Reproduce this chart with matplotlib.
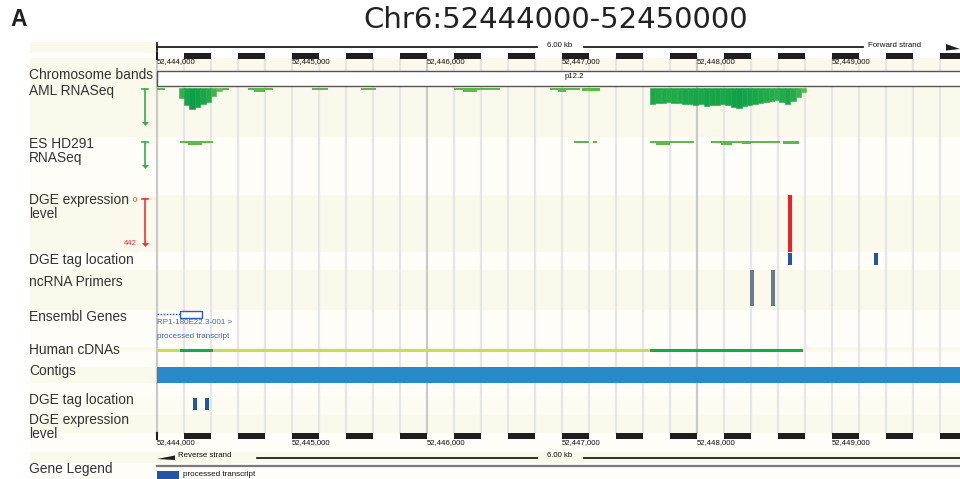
import matplotlib
matplotlib.use('Agg')
import matplotlib.pyplot as plt
from matplotlib.patches import Rectangle, Polygon
import matplotlib.colors as mcolors

plt.rcParams['font.family'] = ['Liberation Sans', 'DejaVu Sans']

# region
title = 'Chr6:52444000-52450000'
view_start = 52444000
view_end = 52450000
tick_pos = [52444000, 52445000, 52446000, 52447000, 52448000, 52449000]
band_name = 'p12.2'
scale_text = '6.00 kb'

# AML RNASeq coverage (40 bp bins)
aml_peak_start = [52444160, 52444200, 52444240, 52444280, 52444320, 52444360, 52444400, 52444440]
aml_peak_depth = [10, 17, 21, 19, 16, 14, 8, 3]
aml_block_start = [52447650, 52447690, 52447730, 52447770, 52447810, 52447850, 52447890, 52447930,
                   52447970, 52448010, 52448050, 52448090, 52448130, 52448170, 52448210, 52448250,
                   52448290, 52448330, 52448370, 52448410, 52448450, 52448490, 52448530, 52448570,
                   52448610, 52448650, 52448690, 52448730, 52448770]
aml_block_depth = [16, 15, 15, 14, 15, 15, 16, 16, 17, 16, 18, 17, 17, 16, 17, 19, 20, 18, 17, 16,
                   15, 14, 13, 12, 14, 16, 13, 9, 4]
# low coverage pieces: start, end, depth
aml_low_start = [52444000, 52444480, 52444674, 52444720, 52445148, 52445511, 52446200, 52446270,
                 52446911, 52446970, 52447148]
aml_low_end = [52444060, 52444530, 52444859, 52444800, 52445267, 52445622, 52446541, 52446370,
               52447133, 52447030, 52447281]
aml_low_depth = [2, 2, 2, 3.5, 2, 2, 2, 4, 2, 4, 2.5]

# ES HD291 RNASeq coverage
es_start = [52444170, 52444230, 52447089, 52447230, 52447652, 52447700, 52448104, 52448180,
            52448330, 52448637]
es_end = [52444415, 52444330, 52447200, 52447259, 52447978, 52447800, 52448615, 52448260,
          52448400, 52448756]
es_depth = [2, 3.5, 2, 2, 2, 3.5, 2, 3.5, 3, 2.5]

# DGE expression / tags
dge_expr_start = [52448674]
dge_expr_end = [52448704]
dge_expr_value = [442]
dge_tag_start = [52448674, 52449311]
dge_tag_end = [52448704, 52449341]
primer_start = [52448393, 52448548]
primer_end = [52448422, 52448578]
dge_tag_rev_start = [52444267, 52444356]
dge_tag_rev_end = [52444296, 52444385]

# Ensembl gene
gene_start = 52443900
exon_start = [52444170]
exon_end = [52444333]
gene_label = 'RP1-180E22.3-001 >'
gene_type = 'processed transcript'

# Human cDNAs
cdna_start = 52444000
cdna_end = 52447652
cdna_aligned_start = [52444170, 52447652]
cdna_aligned_end = [52444415, 52448785]

# ---- layout ----
PX_PER_BP = 0.135
LEFT_PX = 157


def bp(px):
    return view_start + (px - LEFT_PX) / PX_PER_BP


cream = '#FBF9EC'
white2 = '#FEFDF8'
green = '#2DB24A'
lgreen = '#5CBB46'
label_col = '#333333'

fig = plt.figure(figsize=(9.6, 4.79), dpi=100)
ax = fig.add_axes([0, 0, 1, 1])
ax.set_xlim(bp(0), bp(960))
ax.set_ylim(479, 0)
ax.axis('off')

rows = [(58, 70, cream), (70, 86, cream), (86, 137, cream), (137, 195, white2),
        (195, 252, cream), (252, 270, white2), (270, 310, cream), (310, 347, white2),
        (347, 352, cream), (352, 367, white2), (367, 383, cream), (383, 396, white2),
        (396, 415, '#FDFCF3'), (415, 433, cream), (433, 452, white2), (452, 463, cream),
        (463, 479, white2)]
for y0, y1, c in rows:
    ax.add_patch(Rectangle((bp(30), y0), bp(960) - bp(30), y1 - y0, color=c, lw=0, zorder=0))
ax.add_patch(Rectangle((bp(30), 42), bp(157) - bp(30), 11, color=cream, lw=0, zorder=0))

# grid lines every 200 bp
for k in range(0, 31):
    g = view_start + 200 * k
    c = '#C9C9C9' if k % 10 == 0 else '#E6E6E6'
    ax.plot([g, g], [58, 433], color=c, lw=1.6, zorder=1)

# title
ax.text(bp(556), 20, title, fontsize=21, family='DejaVu Sans', color='#222222',
        ha='center', va='center')
ax.text(bp(10), 19, 'A', fontsize=16.5, fontweight='bold', color='#222222', ha='left', va='center')

# rulers
for yb, yl in [(53, 62), (433, 443)]:
    for k in range(15):
        s = view_start + 200 + 400 * k
        ax.add_patch(Rectangle((s, yb), 200, 5.5, color='#1E1E1E', lw=0, zorder=3))
    ax.plot([view_start, view_start], [yb, yb + 5.5], color='#1E1E1E', lw=1.5, zorder=3)
    for t in tick_pos:
        ax.text(t, yl, f'{t:,}', fontsize=5.6, color='#111111', ha='left', va='center', zorder=4)

# forward strand line
ax.plot([bp(157), bp(537)], [47, 47], color='#1E1E1E', lw=1.3)
ax.plot([bp(584), bp(863)], [47, 47], color='#1E1E1E', lw=1.3)
ax.plot([bp(157), bp(157)], [43, 51], color='#1E1E1E', lw=1.3)
ax.text(bp(560), 45.5, scale_text, fontsize=5.6, ha='center', va='center', color='#111111')
ax.text(bp(868), 45.5, 'Forward strand', fontsize=5.7, ha='left', va='center', color='#111111')
ax.add_patch(Polygon([(bp(946), 44), (bp(946), 50.5), (bp(960), 49)], color='#1E1E1E', lw=0))

# reverse strand line
ax.plot([bp(257), bp(537)], [458, 458], color='#1E1E1E', lw=1.3)
ax.plot([bp(584), bp(960)], [458, 458], color='#1E1E1E', lw=1.3)
ax.text(bp(560), 455.5, scale_text, fontsize=5.6, ha='center', va='center', color='#111111')
ax.text(bp(178), 455.5, 'Reverse strand', fontsize=5.7, ha='left', va='center', color='#111111')
ax.add_patch(Polygon([(bp(157), 459), (bp(175), 455.5), (bp(175), 460)], color='#1E1E1E', lw=0))
ax.plot([bp(157), bp(960)], [466, 466], color='#7A7A7A', lw=1.6)

# chromosome band
ax.add_patch(Rectangle((bp(157), 70.5), bp(962) - bp(157), 15.5, facecolor='white',
                       edgecolor='#555555', lw=1.0, zorder=3))
ax.text(bp(565), 76, band_name, fontsize=5.6, ha='left', va='center', color='#111111', zorder=4)

# track labels
labels = [(75, 'Chromosome bands'), (91, 'AML RNASeq'), (151, 'ES HD291\nRNASeq'),
          (207, 'DGE expression\nlevel'), (260, 'DGE tag location'), (282, 'ncRNA Primers'),
          (317, 'Ensembl Genes'), (350, 'Human cDNAs'), (371, 'Contigs'),
          (400, 'DGE tag location'), (427, 'DGE expression\nlevel'), (469, 'Gene Legend')]
for y, s in labels:
    ax.text(bp(29), y, s, fontsize=9.9, color=label_col, ha='left', va='center',
            linespacing=0.92, zorder=4)


def scale_arrow(y0, y1, c):
    x = bp(145.5)
    ax.plot([x, x], [y0, y1 - 3], color=c, lw=1.2, zorder=4)
    ax.plot([bp(142.5), bp(148.5)], [y0, y0], color=c, lw=1.2, zorder=4)
    ax.add_patch(Polygon([(bp(142), y1 - 4), (bp(149), y1 - 4), (x, y1)], color=c, lw=0, zorder=4))


scale_arrow(89, 126, green)
scale_arrow(142, 169, green)
scale_arrow(199, 247, '#EE3333')
ax.text(bp(137), 201, '0', fontsize=5.5, color='#EE3333', ha='right', va='center')
ax.text(bp(137), 243, str(dge_expr_value[0]), fontsize=5.5, color='#EE3333', ha='right', va='center')

# coverage colouring
cmap = mcolors.LinearSegmentedColormap.from_list('cov', ['#6CC04A', '#2FB04A', '#0A9F48'])
norm = mcolors.Normalize(vmin=0, vmax=21)
aml_top = 88
ax.bar(aml_low_start, aml_low_depth,
       width=[e - s for s, e in zip(aml_low_start, aml_low_end)], bottom=aml_top,
       align='edge', color=lgreen, lw=0, zorder=2)
for st, dp in [(aml_peak_start, aml_peak_depth), (aml_block_start, aml_block_depth)]:
    cols = [cmap(norm(d)) for d in dp]
    ax.bar(st, dp, width=40, bottom=aml_top, align='edge', color=cols,
           edgecolor=cols, lw=0.4, zorder=2)
ax.bar(es_start, es_depth, width=[e - s for s, e in zip(es_start, es_end)], bottom=141,
       align='edge', color=lgreen, lw=0, zorder=2)

# DGE expression
ax.bar(dge_expr_start, [v / 442 * 57 for v in dge_expr_value],
       width=[e - s for s, e in zip(dge_expr_start, dge_expr_end)], bottom=195,
       align='edge', color='#EE2027', lw=0, zorder=2)
ax.bar(dge_tag_start, 12.5, width=[e - s for s, e in zip(dge_tag_start, dge_tag_end)],
       bottom=252.5, align='edge', color='#2255A5', lw=0, zorder=2)
ax.bar(primer_start, 36, width=[e - s for s, e in zip(primer_start, primer_end)],
       bottom=270, align='edge', color='#6B7B8C', lw=0, zorder=2)
ax.bar(dge_tag_rev_start, 12, width=[e - s for s, e in zip(dge_tag_rev_start, dge_tag_rev_end)],
       bottom=398, align='edge', color='#2255A5', lw=0, zorder=2)

# Ensembl gene
ax.plot([max(gene_start, bp(157)), exon_start[0]], [314, 314], color='#2D5BB8', lw=1.0,
        ls=(0, (1.2, 1.0)), zorder=3)
for s, e in zip(exon_start, exon_end):
    ax.add_patch(Rectangle((s, 310.5), e - s, 7.5, facecolor='white', edgecolor='#2D5BB8',
                           lw=1.0, zorder=3))
ax.text(bp(157), 322.5, gene_label, fontsize=5.8, color='#3B66C4', ha='left', va='center', zorder=4)
ax.text(bp(157), 336, gene_type, fontsize=5.8, color='#3B66C4', ha='left', va='center', zorder=4)

# Human cDNAs
ax.add_patch(Rectangle((cdna_start, 348.7), cdna_end - cdna_start, 3, color='#C8DC5A', lw=0, zorder=3))
for s, e in zip(cdna_aligned_start, cdna_aligned_end):
    ax.add_patch(Rectangle((s, 348.7), e - s, 3, color='#17A84A', lw=0, zorder=3))

# Contigs
ax.add_patch(Rectangle((bp(157), 367), bp(960) - bp(157), 16, color='#2A89C8', lw=0, zorder=3))

# gene legend
ax.add_patch(Rectangle((bp(157), 471), bp(179) - bp(157), 8, color='#2255A5', lw=0, zorder=3))
ax.text(bp(183), 474.5, gene_type, fontsize=5.8, color='#111111', ha='left', va='center')

fig.savefig('out.png', dpi=100)
